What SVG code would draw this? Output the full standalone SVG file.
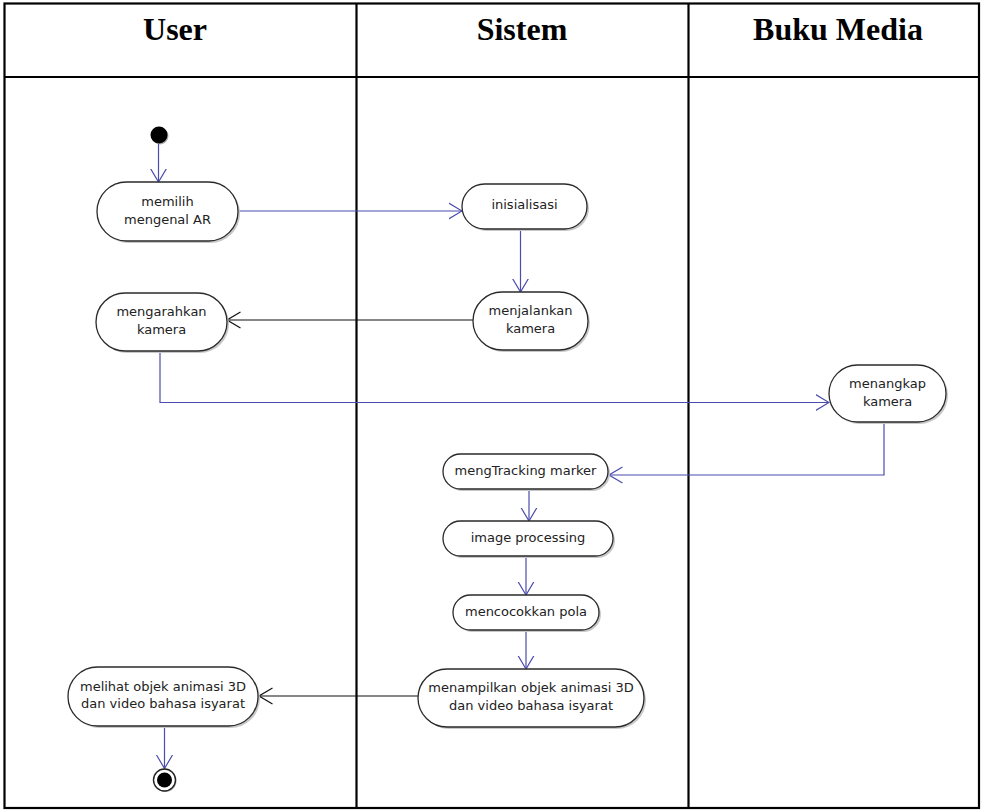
<svg xmlns="http://www.w3.org/2000/svg" width="981" height="811" viewBox="0 0 981 811">
  <defs>
    <marker id="arrowBlue" viewBox="0 0 14 18" refX="13.5" refY="9" markerWidth="14" markerHeight="18" markerUnits="userSpaceOnUse" orient="auto">
      <path d="M0,1 L13.5,9 L0,17" fill="none" stroke="#4b4bb0" stroke-width="1.2"/>
    </marker>
    <marker id="arrowBlack" viewBox="0 0 14 18" refX="13.5" refY="9" markerWidth="14" markerHeight="18" markerUnits="userSpaceOnUse" orient="auto">
      <path d="M0,1 L13.5,9 L0,17" fill="none" stroke="#111" stroke-width="1.2"/>
    </marker>
  </defs>
  <style>
    .lane { fill: none; stroke: #000; stroke-width: 2.2; }
    .head { font-family: "Liberation Serif", "Times New Roman", serif; font-weight: bold; font-size: 32px; fill: #000; text-anchor: middle; }
    .shadow { fill: #c8c8c8; stroke: none; }
    .act { fill: #fff; stroke: #2a2a2a; stroke-width: 1.3; }
    .lbl { font-family: "DejaVu Sans", Verdana, sans-serif; font-size: 13px; fill: #222; text-anchor: middle; }
    .flow { fill: none; stroke: #4b4bb0; stroke-width: 1.2; marker-end: url(#arrowBlue); }
    .flowDark { fill: none; stroke: #111; stroke-width: 1.2; marker-end: url(#arrowBlack); }
  </style>

  <rect width="981" height="811" fill="#fff"/>

  <!-- swimlane table -->
  <g id="lanes">
    <rect class="lane" x="4.5" y="3.5" width="974.5" height="804.5"/>
    <line class="lane" x1="4.5" y1="77" x2="979" y2="77"/>
    <line class="lane" x1="356.5" y1="3.5" x2="356.5" y2="808"/>
    <line class="lane" x1="688.5" y1="3.5" x2="688.5" y2="808"/>
    <text class="head" x="175" y="40">User</text>
    <text class="head" x="522" y="40">Sistem</text>
    <text class="head" x="838" y="40">Buku Media</text>
  </g>

  <!-- connectors -->
  <g id="connectors">
    <path class="flow" d="M158.5,144 L158.5,182"/>
    <path class="flow" d="M238,211 L462,211"/>
    <path class="flow" d="M520.5,229 L520.5,292"/>
    <path class="flowDark" d="M473,320 L227,320"/>
    <path class="flow" d="M160,351 L160,402.5 L829,402.5"/>
    <path class="flow" d="M884,422 L884,475 L609,475"/>
    <path class="flow" d="M529,489 L529,521"/>
    <path class="flow" d="M526,557 L526,595"/>
    <path class="flow" d="M526,631 L526,669"/>
    <path class="flowDark" d="M418,696 L259,696"/>
    <path class="flow" d="M164.5,727 L164.5,768.5"/>
  </g>

  <!-- initial node -->
  <g id="start">
    <circle cx="160" cy="136" r="8.5" fill="#aaa"/>
    <circle cx="159" cy="135" r="8.5" fill="#000"/>
  </g>

  <g id="memilih">
    <rect class="shadow" x="99" y="184" width="141" height="59" rx="29.5"/>
    <rect class="act" x="97" y="182" width="141" height="59" rx="29.5"/>
    <text class="lbl" x="167.5" y="206">memilih</text>
    <text class="lbl" x="167.5" y="223.5">mengenal AR</text>
  </g>

  <g id="inisialisasi">
    <rect class="shadow" x="464" y="186" width="125" height="45" rx="22.5"/>
    <rect class="act" x="462" y="184" width="125" height="45" rx="22.5"/>
    <text class="lbl" x="524.5" y="209">inisialisasi</text>
  </g>

  <g id="menjalankan">
    <rect class="shadow" x="475" y="294" width="115" height="58" rx="29"/>
    <rect class="act" x="473" y="292" width="115" height="58" rx="29"/>
    <text class="lbl" x="530.5" y="315">menjalankan</text>
    <text class="lbl" x="530.5" y="332.5">kamera</text>
  </g>

  <g id="mengarahkan">
    <rect class="shadow" x="98" y="295" width="131" height="58" rx="29"/>
    <rect class="act" x="96" y="293" width="131" height="58" rx="29"/>
    <text class="lbl" x="161.5" y="316">mengarahkan</text>
    <text class="lbl" x="161.5" y="333.5">kamera</text>
  </g>

  <g id="menangkap">
    <rect class="shadow" x="831" y="367" width="117" height="57" rx="28.5"/>
    <rect class="act" x="829" y="365" width="117" height="57" rx="28.5"/>
    <text class="lbl" x="887.5" y="388">menangkap</text>
    <text class="lbl" x="887.5" y="405.5">kamera</text>
  </g>

  <g id="tracking">
    <rect class="shadow" x="445" y="456" width="165" height="35" rx="17.5"/>
    <rect class="act" x="443" y="454" width="165" height="35" rx="17.5"/>
    <text class="lbl" x="525.5" y="475">mengTracking marker</text>
  </g>

  <g id="processing">
    <rect class="shadow" x="445" y="523" width="170" height="35" rx="17.5"/>
    <rect class="act" x="443" y="521" width="170" height="35" rx="17.5"/>
    <text class="lbl" x="528" y="542">image processing</text>
  </g>

  <g id="mencocokkan">
    <rect class="shadow" x="455" y="597" width="146" height="35" rx="17.5"/>
    <rect class="act" x="453" y="595" width="146" height="35" rx="17.5"/>
    <text class="lbl" x="526" y="616">mencocokkan pola</text>
  </g>

  <g id="menampilkan">
    <rect class="shadow" x="420" y="671" width="226" height="58" rx="29"/>
    <rect class="act" x="418" y="669" width="226" height="58" rx="29"/>
    <text class="lbl" x="531" y="692">menampilkan objek animasi 3D</text>
    <text class="lbl" x="531" y="709.5">dan video bahasa isyarat</text>
  </g>

  <g id="melihat">
    <rect class="shadow" x="70" y="669" width="190" height="59" rx="29.5"/>
    <rect class="act" x="68" y="667" width="190" height="59" rx="29.5"/>
    <text class="lbl" x="163" y="690.5">melihat objek animasi 3D</text>
    <text class="lbl" x="163" y="708">dan video bahasa isyarat</text>
  </g>

  <!-- final node -->
  <g id="end">
    <circle cx="165.5" cy="781" r="11" fill="#bbb"/>
    <circle cx="164.5" cy="780" r="11" fill="#fff" stroke="#222" stroke-width="1.4"/>
    <circle cx="164.5" cy="780" r="7.5" fill="#000"/>
  </g>
</svg>
